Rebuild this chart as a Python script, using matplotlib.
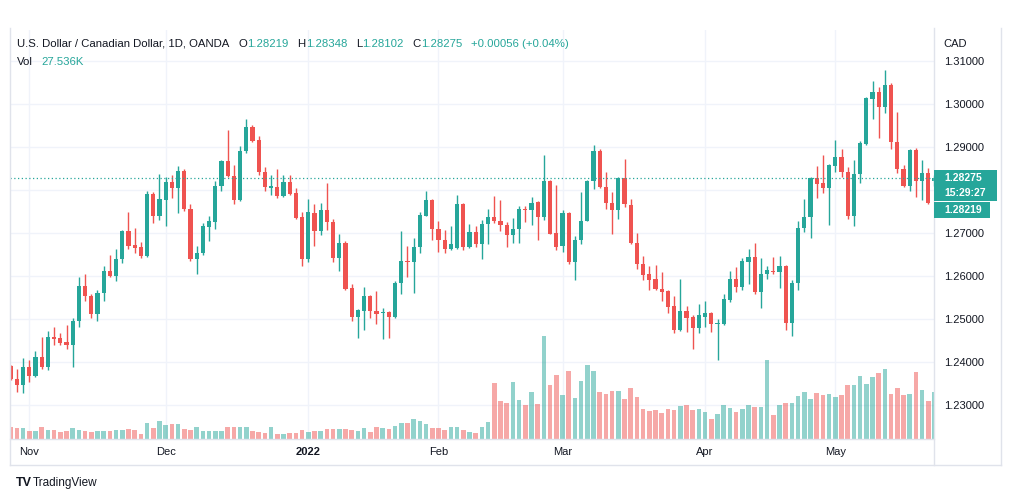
import matplotlib
matplotlib.use("Agg")
import matplotlib.pyplot as plt
import numpy as np
import pandas as pd
from matplotlib.patches import Rectangle
from matplotlib.lines import Line2D

# ---------------- data ----------------
start_date = "2021-10-27"
opens = [1.2391, 1.2362, 1.2347, 1.2389, 1.2369, 1.2412, 1.2390, 1.2458, 1.2456, 1.2446,
         1.2439, 1.2495, 1.2578, 1.2555, 1.2512, 1.2560, 1.2612, 1.2601, 1.2640, 1.2704,
         1.2673, 1.2667, 1.2647, 1.2792, 1.2739, 1.2778, 1.2820, 1.2804, 1.2845, 1.2756,
         1.2641, 1.2653, 1.2714, 1.2727, 1.2810, 1.2867, 1.2833, 1.2776, 1.2890, 1.2946,
         1.2916, 1.2843, 1.2806, 1.2807, 1.2787, 1.2818, 1.2793, 1.2738, 1.2641, 1.2747,
         1.2706, 1.2754, 1.2727, 1.2643, 1.2677, 1.2572, 1.2506, 1.2520, 1.2554, 1.2519,
         1.2514, 1.2516, 1.2505, 1.2584, 1.2635, 1.2633, 1.2668, 1.2741, 1.2776, 1.2709,
         1.2685, 1.2664, 1.2665, 1.2768, 1.2667, 1.2703, 1.2675, 1.2722, 1.2738, 1.2729,
         1.2720, 1.2695, 1.2710, 1.2757, 1.2753, 1.2772, 1.2738, 1.2821, 1.2701, 1.2670,
         1.2746, 1.2633, 1.2685, 1.2729, 1.2821, 1.2892, 1.2808, 1.2771, 1.2753, 1.2829,
         1.2766, 1.2677, 1.2628, 1.2605, 1.2593, 1.2571, 1.2566, 1.2531, 1.2475, 1.2519,
         1.2506, 1.2479, 1.2506, 1.2514, 1.2488, 1.2488, 1.2545, 1.2594, 1.2574, 1.2634,
         1.2644, 1.2564, 1.2605, 1.2613, 1.2609, 1.2624, 1.2492, 1.2584, 1.2712, 1.2737,
         1.2828, 1.2816, 1.2806, 1.2857, 1.2878, 1.2841, 1.2739, 1.2837, 1.2908, 1.3012,
         1.3028, 1.2992, 1.3044, 1.2911, 1.2849, 1.2809, 1.2894, 1.2822, 1.2840, 1.28219]
highs = [1.2394, 1.2384, 1.2409, 1.2405, 1.2426, 1.2459, 1.2473, 1.2481, 1.2468, 1.2486,
         1.2504, 1.2598, 1.2605, 1.2559, 1.2567, 1.2623, 1.2649, 1.2664, 1.2708, 1.2748,
         1.2712, 1.2679, 1.2799, 1.2795, 1.2837, 1.2830, 1.2836, 1.2857, 1.2848, 1.2767,
         1.2669, 1.2723, 1.2739, 1.2822, 1.2869, 1.2939, 1.2859, 1.2903, 1.2966, 1.2952,
         1.2925, 1.2853, 1.2836, 1.2850, 1.2834, 1.2836, 1.2805, 1.2750, 1.2779, 1.2767,
         1.2770, 1.2816, 1.2733, 1.2698, 1.2682, 1.2582, 1.2524, 1.2574, 1.2557, 1.2566,
         1.2526, 1.2518, 1.2588, 1.2704, 1.2671, 1.2688, 1.2750, 1.2799, 1.2779, 1.2729,
         1.2708, 1.2717, 1.2789, 1.2770, 1.2722, 1.2716, 1.2730, 1.2755, 1.2786, 1.2777,
         1.2726, 1.2736, 1.2764, 1.2764, 1.2784, 1.2774, 1.2881, 1.2823, 1.2811, 1.2753,
         1.2748, 1.2693, 1.2795, 1.2823, 1.2904, 1.2896, 1.2843, 1.2796, 1.2831, 1.2873,
         1.2780, 1.2700, 1.2647, 1.2624, 1.2626, 1.2609, 1.2568, 1.2554, 1.2594, 1.2531,
         1.2510, 1.2536, 1.2543, 1.2516, 1.2500, 1.2559, 1.2613, 1.2622, 1.2643, 1.2664,
         1.2677, 1.2643, 1.2624, 1.2644, 1.2647, 1.2626, 1.2591, 1.2729, 1.2779, 1.2830,
         1.2855, 1.2882, 1.2861, 1.2916, 1.2895, 1.2853, 1.2871, 1.2915, 1.3016, 1.3054,
         1.3039, 1.3078, 1.3050, 1.2981, 1.2859, 1.2895, 1.2898, 1.2871, 1.2851, 1.28348]
lows = [1.2359, 1.2332, 1.2329, 1.2355, 1.2366, 1.2384, 1.2381, 1.2439, 1.2439, 1.2431,
        1.2389, 1.2481, 1.2543, 1.2504, 1.2495, 1.2543, 1.2599, 1.2588, 1.2630, 1.2663,
        1.2653, 1.2642, 1.2645, 1.2723, 1.2731, 1.2716, 1.2781, 1.2747, 1.2752, 1.2636,
        1.2605, 1.2650, 1.2681, 1.2710, 1.2799, 1.2830, 1.2767, 1.2774, 1.2887, 1.2911,
        1.2836, 1.2797, 1.2788, 1.2781, 1.2784, 1.2789, 1.2734, 1.2624, 1.2634, 1.2669,
        1.2695, 1.2708, 1.2634, 1.2613, 1.2568, 1.2497, 1.2456, 1.2474, 1.2502, 1.2489,
        1.2453, 1.2456, 1.2502, 1.2559, 1.2599, 1.2562, 1.2653, 1.2739, 1.2684, 1.2657,
        1.2655, 1.2662, 1.2663, 1.2660, 1.2665, 1.2668, 1.2640, 1.2674, 1.2724, 1.2705,
        1.2668, 1.2676, 1.2676, 1.2726, 1.2720, 1.2684, 1.2730, 1.2697, 1.2662, 1.2656,
        1.2629, 1.2591, 1.2674, 1.2728, 1.2802, 1.2806, 1.2755, 1.2699, 1.2733, 1.2761,
        1.2675, 1.2616, 1.2591, 1.2567, 1.2568, 1.2543, 1.2514, 1.2469, 1.2473, 1.2471,
        1.2431, 1.2467, 1.2483, 1.2471, 1.2405, 1.2486, 1.2541, 1.2564, 1.2567, 1.2582,
        1.2558, 1.2526, 1.2593, 1.2605, 1.2572, 1.2474, 1.2460, 1.2568, 1.2702, 1.2688,
        1.2781, 1.2793, 1.2719, 1.2843, 1.2830, 1.2733, 1.2716, 1.2816, 1.2905, 1.2965,
        1.2922, 1.2979, 1.2895, 1.2840, 1.2807, 1.2797, 1.2785, 1.2778, 1.2768, 1.28102]
closes = [1.2360, 1.2347, 1.2389, 1.2369, 1.2412, 1.2390, 1.2458, 1.2455, 1.2444, 1.2439,
          1.2495, 1.2578, 1.2553, 1.2512, 1.2560, 1.2612, 1.2601, 1.2640, 1.2704, 1.2671,
          1.2665, 1.2647, 1.2791, 1.2739, 1.2780, 1.2820, 1.2804, 1.2845, 1.2756, 1.2641,
          1.2653, 1.2716, 1.2729, 1.2810, 1.2867, 1.2832, 1.2776, 1.2892, 1.2946, 1.2913,
          1.2841, 1.2807, 1.2808, 1.2787, 1.2818, 1.2791, 1.2736, 1.2641, 1.2748, 1.2706,
          1.2754, 1.2725, 1.2642, 1.2677, 1.2570, 1.2506, 1.2522, 1.2554, 1.2518, 1.2512,
          1.2516, 1.2505, 1.2585, 1.2636, 1.2632, 1.2668, 1.2743, 1.2776, 1.2709, 1.2683,
          1.2664, 1.2675, 1.2768, 1.2667, 1.2703, 1.2675, 1.2722, 1.2738, 1.2728, 1.2719,
          1.2695, 1.2710, 1.2757, 1.2753, 1.2771, 1.2738, 1.2821, 1.2699, 1.2667, 1.2746,
          1.2633, 1.2685, 1.2729, 1.2821, 1.2892, 1.2808, 1.2771, 1.2753, 1.2829, 1.2767,
          1.2677, 1.2628, 1.2603, 1.2591, 1.2570, 1.2564, 1.2529, 1.2475, 1.2519, 1.2504,
          1.2479, 1.2509, 1.2514, 1.2488, 1.2491, 1.2547, 1.2594, 1.2574, 1.2636, 1.2644,
          1.2564, 1.2605, 1.2615, 1.2609, 1.2624, 1.2492, 1.2585, 1.2712, 1.2737, 1.2828,
          1.2815, 1.2806, 1.2859, 1.2878, 1.2841, 1.2739, 1.2837, 1.2909, 1.3014, 1.3028,
          1.2992, 1.3044, 1.2911, 1.2849, 1.2809, 1.2894, 1.2822, 1.2840, 1.2770, 1.28275]
volumes_k = [7.1, 6.5, 6.1, 4.5, 4.5, 6.7, 5.1, 5.1, 3.9, 4.5,
             6.1, 4.9, 4.5, 3.9, 4.5, 4.5, 4.5, 5.1, 5.1, 5.7,
             5.1, 2.8, 9.0, 6.1, 10.4, 8.1, 8.5, 8.5, 5.5, 5.1,
             6.7, 4.5, 4.5, 4.5, 4.5, 6.7, 6.7, 6.7, 6.9, 4.5,
             3.9, 3.1, 6.7, 2.8, 2.6, 3.1, 3.1, 5.1, 4.1, 4.5,
             4.5, 5.7, 5.7, 5.7, 5.7, 5.1, 4.5, 6.5, 3.7, 6.9,
             6.1, 5.7, 7.5, 9.0, 9.0, 11.4, 10.4, 8.5, 6.1, 6.1,
             5.1, 6.9, 6.9, 5.1, 4.1, 3.1, 6.9, 9.8, 33.0, 22.4,
             21.2, 33.6, 22.8, 19.9, 27.5, 20.5, 60.6, 31.7, 37.6, 25.8,
             40.1, 24.0, 34.0, 43.5, 39.9, 27.5, 26.4, 28.1, 28.1, 23.4,
             29.9, 24.6, 17.5, 16.3, 16.9, 15.3, 17.5, 16.9, 19.3, 19.9,
             16.9, 17.5, 15.7, 11.6, 14.6, 19.9, 18.1, 15.7, 17.5, 19.9,
             18.7, 18.7, 46.4, 14.0, 19.9, 21.0, 21.0, 25.2, 27.5, 23.4,
             26.9, 25.8, 26.4, 24.6, 25.8, 31.7, 31.7, 37.0, 32.3, 36.4,
             38.9, 41.1, 26.4, 29.9, 25.8, 26.4, 39.3, 28.7, 22.2, 27.536]
month_labels = ["Nov", "Dec", "2022", "Feb", "Mar", "Apr", "May"]
price_ticks = [1.23, 1.24, 1.25, 1.26, 1.27, 1.28, 1.29, 1.30, 1.31]
title = "U.S. Dollar / Canadian Dollar, 1D, OANDA"
last_price = 1.28275
second_label = 1.28219
countdown = "15:29:27"
change_text = "+0.00056 (+0.04%)"

# ---------------- style ----------------
UP = "#26a69a"
DOWN = "#ef5350"
TEXT = "#131722"
GRID = "#f0f3fa"
BORDER = "#e0e3eb"
FONT = "Liberation Sans"
W, H = 1012, 501

o = np.array(opens); h = np.array(highs); l = np.array(lows); c = np.array(closes)
v = np.array(volumes_k)
n = len(c)
idx = np.arange(n)
dates = pd.bdate_range(start_date, periods=n)
month_idx = [i for i in range(1, n) if dates[i].month != dates[i - 1].month]
up = c >= o
colors = np.where(up, UP, DOWN)

fig = plt.figure(figsize=(W / 100, H / 100), dpi=100)
fig.patch.set_facecolor("white")

def fx(px):
    return px / W

def fy(py):
    return 1 - py / H

left, right, top, bottom = 10, 934, 30, 438.7
rect = [fx(left), fy(bottom), (right - left) / W, (bottom - top) / H]
ax_v = fig.add_axes(rect, zorder=1)
ax = fig.add_axes(rect, zorder=2)
ax.patch.set_alpha(0)

px_per_unit_x = 6.2
xlim = (-0.7 / px_per_unit_x, (right - left - 0.7) / px_per_unit_x)
ppu = 4304.0
ylim = (1.23 - (bottom - 405.3) / ppu, 1.31 + (61 - top) / ppu)
ax.set_xlim(*xlim); ax.set_ylim(*ylim)
ax_v.set_xlim(*xlim)
ax_v.set_ylim(0, (bottom - top) / 1.695)

# grid (drawn in the lower axes)
for p in price_ticks:
    ax_v.plot(xlim, [p, p], color=GRID, lw=1, transform=ax.transData, zorder=0)
for m in month_idx:
    ax_v.axvline(m, color=GRID, lw=1, zorder=0)

# volume
ax_v.bar(idx, v, width=0.72, color=colors, alpha=0.5, linewidth=0, zorder=2)

# candles
ax.vlines(idx, l, h, colors=colors, lw=1.0, zorder=3)
body_h = np.maximum(np.abs(c - o), 0.00025)
ax.bar(idx, body_h, bottom=np.minimum(o, c), width=0.66, color=colors, linewidth=0, zorder=4)

# last price dotted line
ax.axhline(last_price, color=UP, lw=0.9, ls=(0, (1, 2)), zorder=5)

for a in (ax, ax_v):
    for s in a.spines.values():
        s.set_visible(False)
ax_v.set_xticks([]); ax_v.set_yticks([])

ax.yaxis.tick_right()
ax.set_yticks(price_ticks)
ax.set_yticklabels([f"{p:.5f}" for p in price_ticks], fontsize=8, family=FONT, color=TEXT)
ax.tick_params(axis="y", length=0, pad=7.5)
ax.set_xticks(month_idx)
ax.set_xticklabels(month_labels, fontsize=8, family=FONT, color=TEXT)
ax.tick_params(axis="x", length=0, pad=6)
for lab in ax.get_xticklabels():
    if lab.get_text().isdigit():
        lab.set_fontweight("bold")

# frame lines
def fline(x0, y0, x1, y1, color=BORDER, lw=1):
    fig.add_artist(Line2D([fx(x0), fx(x1)], [fy(y0), fy(y1)], color=color, lw=lw, transform=fig.transFigure, zorder=10))

fline(right, top - 2, right, 465)
fline(left, bottom, right, bottom)
fline(left, 465, 1001, 465)
fline(left, top - 2, left, 465)
fline(1001, top - 2, 1001, 465)

# header text
renderer = fig.canvas.get_renderer()

def seg_text(x_px, y_px, segments, size=8.2):
    x = x_px
    for s, color, gap in segments:
        x += gap
        t = fig.text(fx(x), fy(y_px), s, color=color, fontsize=size, family=FONT, va="center", ha="left", zorder=20)
        x += t.get_window_extent(renderer=renderer).width
    return x

seg_text(17, 44, [(title, TEXT, 0),
                  ("O", TEXT, 9), (f"{opens[-1]:.5f}", UP, 0),
                  ("H", TEXT, 9), (f"{highs[-1]:.5f}", UP, 0),
                  ("L", TEXT, 9), (f"{lows[-1]:.5f}", UP, 0),
                  ("C", TEXT, 9), (f"{closes[-1]:.5f}", UP, 0),
                  (change_text, UP, 9)])
seg_text(17, 62, [("Vol", TEXT, 0), (f"{volumes_k[-1]:.3f}K", UP, 8)])

fig.text(fx(943), fy(44), "CAD", fontsize=8, family=FONT, color=TEXT, va="center", ha="left")

# price label boxes
fig.add_artist(Rectangle((fx(934), fy(201)), (997 - 934) / W, 31 / H, transform=fig.transFigure,
                         facecolor=UP, edgecolor="none", zorder=15))
fig.text(fx(944), fy(178), f"{last_price:.5f}", fontsize=7.5, family=FONT, color="white",
         fontweight="bold", va="center", ha="left", zorder=16)
fig.text(fx(944), fy(193), countdown, fontsize=7.5, family=FONT, color="white",
         fontweight="bold", va="center", ha="left", zorder=16)
fig.add_artist(Rectangle((fx(934), fy(218)), (990 - 934) / W, 16 / H, transform=fig.transFigure,
                         facecolor=UP, edgecolor="none", zorder=15))
fig.text(fx(944), fy(210), f"{second_label:.5f}", fontsize=7.5, family=FONT, color="white",
         fontweight="bold", va="center", ha="left", zorder=16)

# TradingView logo
fig.text(fx(16), fy(483), "TV", fontsize=9, family=FONT, color=TEXT, fontweight="bold", va="center", ha="left")
fig.text(fx(33), fy(483), "TradingView", fontsize=8.5, family=FONT, color=TEXT, va="center", ha="left")

fig.savefig("out.png", dpi=100, facecolor="white")
